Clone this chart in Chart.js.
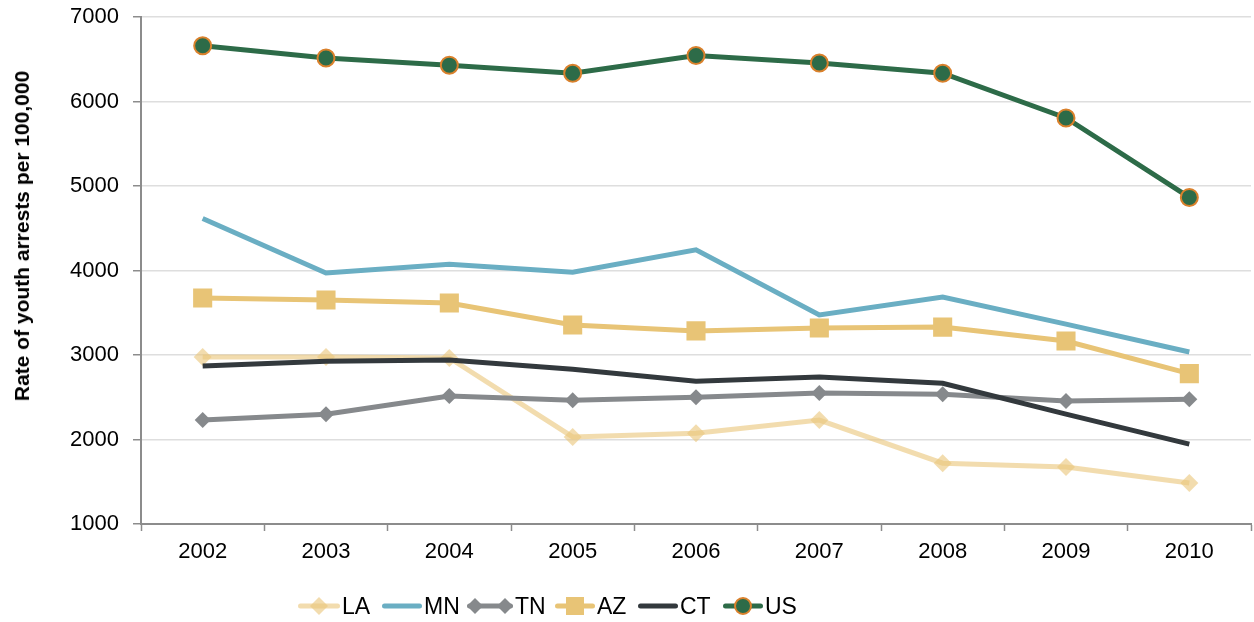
<!DOCTYPE html>
<html>
<head>
<meta charset="utf-8">
<script src="https://cdn.jsdelivr.net/npm/chart.js@4/dist/chart.umd.min.js"></script>
<style>
  html, body { margin: 0; padding: 0; background: #fff; }
  #wrap { position: relative; width: 1254px; height: 622px; font-family: "Liberation Sans", Arial, sans-serif; }
  #yTitle {
    position: absolute; left: 22px; top: 236px; white-space: nowrap;
    transform: translate(-50%, -50%) rotate(-90deg);
    font-weight: bold; font-size: 21px; color: #000;
  }
  #legend { position: absolute; top: 594px; left: 0; height: 24px; width: 100%; }
  .item { position: absolute; top: 0; height: 24px; display: flex; align-items: center; }
  .item span { font-size: 23px; color: #000; margin-left: 2px; }
</style>
</head>
<body>
<div id="wrap">
  <canvas id="chart" width="1254" height="622"></canvas>
  <div id="yTitle">Rate of youth arrests per 100,000</div>
  <div id="legend"></div>
</div>
<script>
const years = ['2002', '2003', '2004', '2005', '2006', '2007', '2008', '2009', '2010'];
const yTicks = [1000, 2000, 3000, 4000, 5000, 6000, 7000];

const la = [2975, 2975, 2965, 2030, 2075, 2230, 1720, 1675, 1485];
const mn = [4615, 3970, 4075, 3980, 4245, 3475, 3685, 3365, 3035];
const tn = [2230, 2300, 2515, 2465, 2500, 2550, 2535, 2455, 2475];
const az = [3675, 3650, 3615, 3355, 3285, 3320, 3330, 3165, 2780];
const ct = [2870, 2925, 2940, 2830, 2690, 2740, 2665, 2300, 1945];
const us = [6660, 6515, 6430, 6335, 6545, 6455, 6335, 5805, 4865];

const series = [
  { label: 'LA', data: la, color: 'rgba(234,199,124,0.62)', point: 'rectRot', radius: 9 },
  { label: 'MN', data: mn, color: '#6AAEC3', point: false, radius: 0 },
  { label: 'TN', data: tn, color: '#86898C', point: 'rectRot', radius: 8 },
  { label: 'AZ', data: az, color: '#E8C476', point: 'rect', radius: 13.5 },
  { label: 'CT', data: ct, color: '#33393D', point: false, radius: 0 },
  { label: 'US', data: us, color: '#2D6B48', point: 'circle', radius: 8.5, border: '#DA812C' }
];

const axisGray = '#8C8C8C';
const plotRight = 1251;
const noPad = s => { s.paddingLeft = 0; s.paddingRight = 0; s.paddingTop = 0; s.paddingBottom = 0; };

// push the plot out to the right edge like the original
const fullWidthX = {
  id: 'fullWidthX',
  afterLayout(chart) {
    const area = chart.chartArea;
    area.right = plotRight;
    area.width = area.right - area.left;
    const x = chart.scales.x;
    x.right = plotRight;
    x.width = x.right - x.left;
    x.configure();
    const y = chart.scales.y;
    y.configure();
  }
};

new Chart(document.getElementById('chart'), {
  type: 'line',
  plugins: [fullWidthX],
  data: {
    labels: years,
    datasets: series.map((s, i) => ({
      label: s.label,
      data: s.data,
      order: series.length - i,
      borderColor: s.color,
      backgroundColor: s.color,
      borderWidth: 5,
      tension: 0,
      pointStyle: s.point,
      pointRadius: s.radius,
      pointHoverRadius: s.radius,
      pointBackgroundColor: s.color,
      pointBorderColor: s.border || s.color,
      pointBorderWidth: s.border ? 2 : 0
    }))
  },
  options: {
    responsive: false,
    animation: false,
    layout: { padding: { top: 17, right: 3, bottom: 50, left: 0 } },
    plugins: { legend: { display: false }, tooltip: { enabled: false } },
    scales: {
      x: {
        offset: true,
        grid: { offset: true, drawOnChartArea: false, drawTicks: true, tickLength: 7, tickColor: axisGray, tickWidth: 1.5 },
        border: { color: axisGray, width: 2 },
        ticks: { color: '#000', padding: 8, font: { family: 'Liberation Sans', size: 22 } },
        afterFit: s => { s.height = 48; noPad(s); }
      },
      y: {
        min: 1000,
        max: 7000,
        afterBuildTicks: s => { s.ticks = yTicks.map(v => ({ value: v })); },
        grid: { color: '#DEDEDE', lineWidth: 1.5, tickLength: 8, tickColor: axisGray, tickWidth: 1.5 },
        border: { color: axisGray, width: 2 },
        ticks: { color: '#000', padding: 14, font: { family: 'Liberation Sans', size: 22 }, callback: v => String(v) },
        afterFit: s => { s.width = 141; noPad(s); }
      }
    }
  }
});

// legend drawn as html so line + marker look like the original
const legendLeft = [298, 382, 467, 555, 638, 723];
const legendLine = [42, 40, 46, 40, 40, 40];
const legend = document.getElementById('legend');
series.forEach((s, i) => {
  const w = legendLine[i];
  const item = document.createElement('div');
  item.className = 'item';
  item.style.left = legendLeft[i] + 'px';
  let marks = '';
  const c = w / 2, m = 12;
  if (s.label === 'TN') {
    marks = `<path d="M${8} ${m - 8} L${16} ${m} L${8} ${m + 8} L${0} ${m} Z" fill="${s.color}"/>` +
            `<path d="M${w - 8} ${m - 8} L${w} ${m} L${w - 8} ${m + 8} L${w - 16} ${m} Z" fill="${s.color}"/>`;
  } else if (s.point === 'rectRot') {
    marks = `<path d="M${c} ${m - 9} L${c + 9} ${m} L${c} ${m + 9} L${c - 9} ${m} Z" fill="${s.color}"/>`;
  } else if (s.point === 'rect') {
    marks = `<rect x="${c - 9}" y="${m - 9}" width="18" height="18" fill="${s.color}"/>`;
  } else if (s.point === 'circle') {
    marks = `<circle cx="${c}" cy="${m}" r="8" fill="${s.color}" stroke="${s.border}" stroke-width="2"/>`;
  }
  item.innerHTML =
    `<svg width="${w}" height="24"><line x1="2.5" y1="${m}" x2="${w - 2.5}" y2="${m}" stroke="${s.color}" stroke-width="5" stroke-linecap="round"/>${marks}</svg>` +
    `<span>${s.label}</span>`;
  legend.appendChild(item);
});
</script>
</body>
</html>
